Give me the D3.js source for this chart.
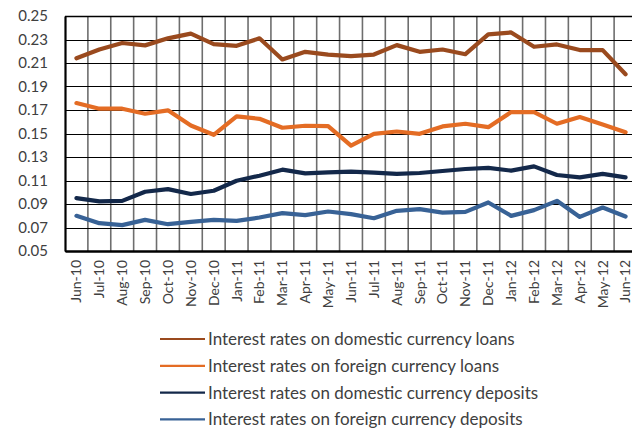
<!DOCTYPE html>
<html>
<head>
<meta charset="utf-8">
<script src="https://cdn.jsdelivr.net/npm/d3@7"></script>
<style>
  body { margin: 0; background: #fff; }
  text { font-family: Lato, "Open Sans", sans-serif; fill: #404040; }
</style>
</head>
<body>
<div class="board"></div>
<script>
var width = 632, height = 428

var margin = { top: 16, left: 65, bottom: 251, right: 637 }

// months on the x axis
let months = ["Jun-10", "Jul-10", "Aug-10", "Sep-10", "Oct-10", "Nov-10", "Dec-10",
    "Jan-11", "Feb-11", "Mar-11", "Apr-11", "May-11", "Jun-11", "Jul-11", "Aug-11",
    "Sep-11", "Oct-11", "Nov-11", "Dec-11", "Jan-12", "Feb-12", "Mar-12", "Apr-12",
    "May-12", "Jun-12"]

let yTicks = [0.05, 0.07, 0.09, 0.11, 0.13, 0.15, 0.17, 0.19, 0.21, 0.23, 0.25]

let domesticLoans = [0.214, 0.2215, 0.227, 0.225, 0.231, 0.235, 0.226, 0.2246, 0.231, 0.213,
    0.2195, 0.2172, 0.2158, 0.2172, 0.2252, 0.2195, 0.2215, 0.2175, 0.2343, 0.236,
    0.2238, 0.2258, 0.221, 0.221, 0.2004]

let foreignLoans = [0.1759, 0.1711, 0.1711, 0.1668, 0.1697, 0.1568, 0.1489, 0.1645, 0.1625, 0.1549,
    0.1566, 0.1563, 0.1397, 0.1497, 0.1517, 0.1497, 0.156, 0.1583, 0.1554, 0.1682,
    0.1682, 0.1583, 0.164, 0.1577, 0.1511]

let domesticDeposits = [0.095, 0.0922, 0.0927, 0.1004, 0.1027, 0.0985, 0.1013, 0.1098, 0.1141, 0.1192,
    0.1161, 0.1169, 0.1175, 0.1167, 0.1156, 0.1164, 0.1181, 0.1198, 0.1207, 0.1184,
    0.122, 0.1147, 0.1127, 0.1156, 0.1127]

let foreignDeposits = [0.0799, 0.0737, 0.072, 0.0765, 0.0728, 0.0748, 0.0765, 0.0756, 0.0785, 0.0822,
    0.0805, 0.0836, 0.0814, 0.0779, 0.0842, 0.0856, 0.0827, 0.0833, 0.0913, 0.0799,
    0.0848, 0.0927, 0.079, 0.087, 0.0793]

let seriesNames = ["Interest rates on domestic currency loans",
    "Interest rates on foreign currency loans",
    "Interest rates on domestic currency deposits",
    "Interest rates on foreign currency deposits"]

const COLORS = ["#9A4A1E", "#E46C24", "#13284A", "#386296"]

let series = [domesticLoans, foreignLoans, domesticDeposits, foreignDeposits]

var svg = d3.select(".board")
    .append("svg")
    .attr("width", width)
    .attr("height", height)

let x = d3.scaleBand()
    .domain(months)
    .range([margin.left, margin.right])

let y = d3.scaleLinear()
    .domain([0.05, 0.25])
    .range([margin.bottom, margin.top])

// vertical grid at band edges
svg.append("g")
    .selectAll("line")
    .data(months.slice(1))
    .enter()
    .append("line")
    .attr("x1", d => x(d))
    .attr("x2", d => x(d))
    .attr("y1", margin.top)
    .attr("y2", margin.bottom)
    .attr("stroke", "#6e6e6e")
    .attr("stroke-width", 1.6)

// horizontal grid
svg.append("g")
    .selectAll("line")
    .data(yTicks)
    .enter()
    .append("line")
    .attr("x1", margin.left)
    .attr("x2", margin.right)
    .attr("y1", d => Math.round(y(d)) + 0.5)
    .attr("y2", d => Math.round(y(d)) + 0.5)
    .attr("stroke", "#000")
    .attr("stroke-width", d => d == 0.25 ? 1.5 : 1)

// y axis
let yAxis = svg.append("g")
    .attr("transform", `translate(${margin.left}, 0)`)
    .call(d3.axisLeft(y).tickValues(yTicks).tickSize(0).tickPadding(17).tickFormat(d3.format(".2f")))
yAxis.select(".domain").attr("stroke", "#000").attr("stroke-width", 2.2)
yAxis.selectAll("text").style("font-size", "15px").style("fill", "#404040")

// x axis
let xAxis = svg.append("g")
    .attr("transform", `translate(0, ${margin.bottom})`)
    .call(d3.axisBottom(x).tickSize(0))
xAxis.select(".domain").attr("stroke", "#000").attr("stroke-width", 2.6)
xAxis.selectAll("text")
    .style("font-size", "14px")
    .style("fill", "#404040")
    .attr("text-anchor", "end")
    .attr("transform", "rotate(-90)")
    .attr("x", -9)
    .attr("y", 0)
    .attr("dy", "0.35em")

let line = d3.line()
    .x((d, i) => x(months[i]) + x.bandwidth() / 2)
    .y(d => y(d))

svg.append("g")
    .selectAll("path")
    .data(series)
    .enter()
    .append("path")
    .attr("d", d => line(d))
    .attr("fill", "none")
    .attr("stroke", (d, i) => COLORS[i])
    .attr("stroke-width", 4.2)
    .attr("stroke-linejoin", "round")
    .attr("stroke-linecap", "round")

// legend
let legend = svg.append("g")
    .selectAll("g")
    .data(seriesNames)
    .enter()
    .append("g")
    .attr("transform", (d, i) => `translate(0, ${339 + i * 26.8})`)

legend.append("line")
    .attr("x1", 160)
    .attr("x2", 205)
    .attr("stroke", (d, i) => COLORS[i])
    .attr("stroke-width", 2.2)

legend.append("text")
    .text(d => d)
    .attr("x", 208)
    .attr("dy", "0.35em")
    .style("font-size", "17px")
</script>
</body>
</html>
